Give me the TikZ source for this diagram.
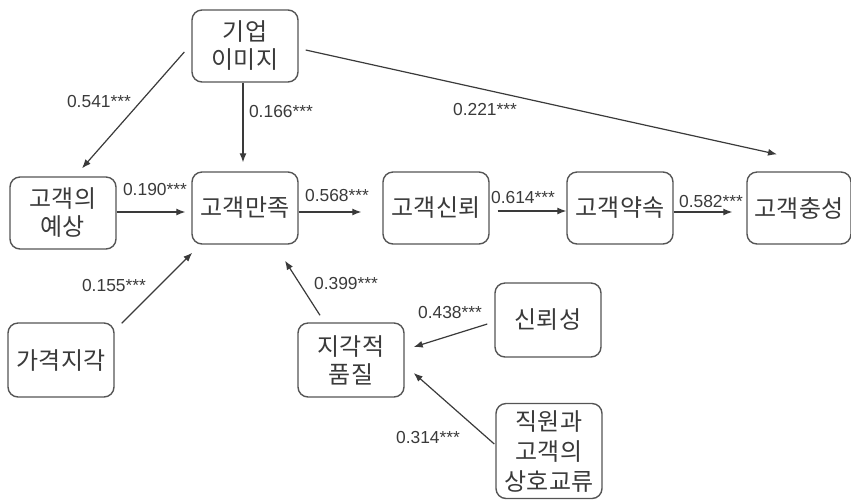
\documentclass[tikz,border=0pt]{standalone}
\usepackage{fontspec}
\usetikzlibrary{arrows.meta}
\newfontfamily\kr{Noto Sans CJK KR}
\newfontfamily\lab{Liberation Sans}
\definecolor{ink}{HTML}{3A3A3A}
\definecolor{edge}{HTML}{555555}

\begin{document}
\begin{tikzpicture}[x=0.5pt, y=-0.5pt,
  box/.style={draw=edge, line width=0.7pt, rounded corners=5pt, align=center,
    minimum width=53pt, minimum height=36pt, inner sep=1pt, text=ink,
    font=\kr\fontsize{12}{14}\selectfont},
  arr/.style={draw=ink, line width=0.6pt, -{Latex[length=4.5pt,width=3.5pt]}},
  lbl/.style={text=ink, inner sep=0pt, font=\lab\fontsize{8.7}{10}\selectfont}]
  \useasboundingbox (0,0) rectangle (851,500);

  % boxes
  \node[box] (ci) at (245,46) {기업\\이미지};
  \node[box] (exp) at (63,213) {고객의\\예상};
  \node[box] (sat) at (245,208) {고객만족};
  \node[box] (trust) at (436,208) {고객신뢰};
  \node[box] (comm) at (620,208) {고객약속};
  \node[box, minimum width=52pt] (loyal) at (799,208) {고객충성};
  \node[box, minimum height=37pt] (price) at (61,360) {가격지각};
  \node[box, minimum height=37pt] (pq) at (351,360) {지각적\\품질};
  \node[box, minimum height=37pt] (rel) at (548,320) {신뢰성};
  \node[box, minimum height=47.5pt, font=\kr\fontsize{12}{15}\selectfont] (inter) at (549,451) {직원과\\고객의\\상호교류};

  % paths
  \draw[arr] ([shift={(-7,6)}]ci.west) -- ([shift={(19,-8)}]exp.north);
  \draw[arr] ([shift={(-2,0)}]ci.south) -- ([shift={(-2,-9)}]sat.north);
  \draw[arr] ([shift={(7,4)}]ci.east) -- ([shift={(-22,-17)}]loyal.north);
  \draw[arr] ([shift={(0,-1)}]exp.east) -- ([shift={(-6,4)}]sat.west);
  \draw[arr] ([shift={(0,4)}]sat.east) -- ([shift={(-21,4)}]trust.west);
  \draw[arr] ([shift={(8,3)}]trust.east) -- ([shift={(0,3)}]comm.west);
  \draw[arr] ([shift={(0,4)}]comm.east) -- ([shift={(-14,4)}]loyal.west);
  \draw[arr] ([shift={(7,1)}]price.north east) -- ([shift={(1,8)}]sat.south west);
  \draw[arr] ([shift={(-31,-7)}]pq.north) -- ([shift={(40,16)}]sat.south);
  \draw[arr] ([shift={(-7,4)}]rel.west) -- ([shift={(9,-13)}]pq.east);
  \draw[arr] ([shift={(-1,-7)}]inter.west) -- ([shift={(9,13)}]pq.east);

  % coefficients
  \node[lbl] (w1) at (99,102) {0.541***};
  \node[lbl] (w2) at (281,112) {0.166***};
  \node[lbl] (w3) at (485,110) {0.221***};
  \node[lbl] (w4) at (155,189) {0.190***};
  \node[lbl] (w5) at (337,195) {0.568***};
  \node[lbl] (w6) at (523,197) {0.614***};
  \node[lbl] (w7) at (711,201) {0.582***};
  \node[lbl] (w8) at (114,285) {0.155***};
  \node[lbl] (w9) at (346,283) {0.399***};
  \node[lbl] (w10) at (450,312) {0.438***};
  \node[lbl] (w11) at (428,437) {0.314***};
\end{tikzpicture}
\end{document}
